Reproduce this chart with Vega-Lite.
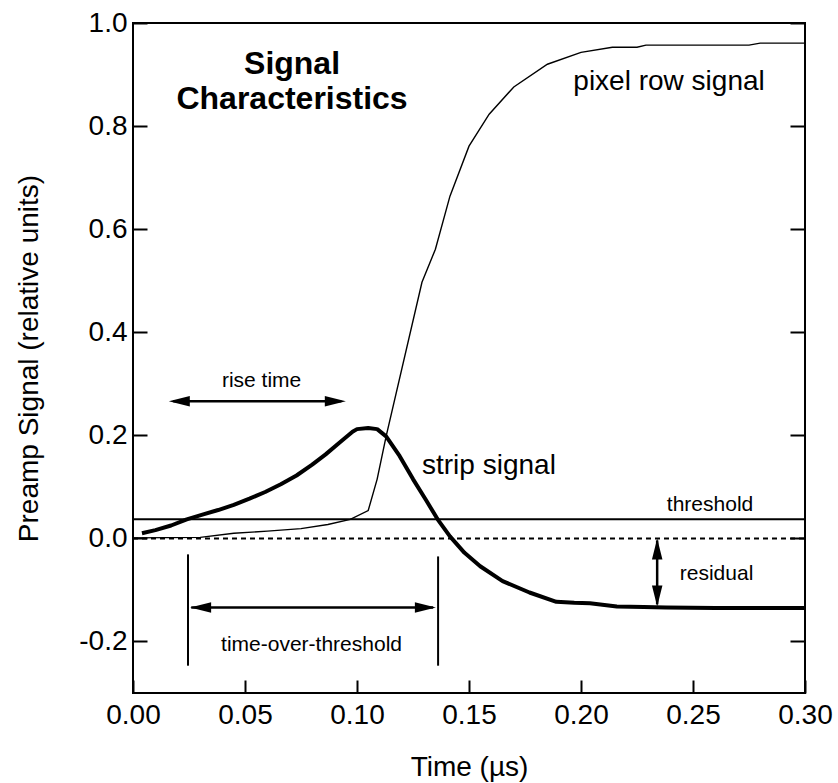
{
  "$schema": "https://vega.github.io/schema/vega-lite/v6.json",
  "width": 672,
  "height": 670,
  "autosize": {"type": "none"},
  "padding": {"left": 133, "top": 23, "right": 33, "bottom": 90},
  "background": "white",
  "config": {
    "view": {"stroke": "black", "strokeWidth": 2},
    "font": "Liberation Sans",
    "axis": {"grid": false, "domain": false, "tickColor": "black", "tickWidth": 2, "labelColor": "black", "titleColor": "black", "labelFont": "Liberation Sans", "titleFont": "Liberation Sans"}
  },
  "datasets": {
    "strip": [
      {"t": 0.004, "v": 0.010}, {"t": 0.010, "v": 0.016}, {"t": 0.017, "v": 0.025}, {"t": 0.024, "v": 0.037},
      {"t": 0.031, "v": 0.046}, {"t": 0.038, "v": 0.055}, {"t": 0.045, "v": 0.065}, {"t": 0.052, "v": 0.077},
      {"t": 0.059, "v": 0.090}, {"t": 0.066, "v": 0.105}, {"t": 0.073, "v": 0.122}, {"t": 0.080, "v": 0.143},
      {"t": 0.086, "v": 0.163}, {"t": 0.092, "v": 0.185}, {"t": 0.098, "v": 0.207}, {"t": 0.100, "v": 0.212},
      {"t": 0.105, "v": 0.214}, {"t": 0.109, "v": 0.212}, {"t": 0.113, "v": 0.198}, {"t": 0.119, "v": 0.160},
      {"t": 0.125, "v": 0.115}, {"t": 0.131, "v": 0.073}, {"t": 0.136, "v": 0.037}, {"t": 0.1415, "v": 0.004},
      {"t": 0.148, "v": -0.028}, {"t": 0.155, "v": -0.054}, {"t": 0.165, "v": -0.083}, {"t": 0.177, "v": -0.105},
      {"t": 0.189, "v": -0.123}, {"t": 0.197, "v": -0.125}, {"t": 0.204, "v": -0.126}, {"t": 0.216, "v": -0.132},
      {"t": 0.228, "v": -0.133}, {"t": 0.238, "v": -0.134}, {"t": 0.260, "v": -0.135}, {"t": 0.280, "v": -0.135},
      {"t": 0.300, "v": -0.135}
    ],
    "pixel": [
      {"t": 0.000, "v": 0.001}, {"t": 0.030, "v": 0.002}, {"t": 0.045, "v": 0.010}, {"t": 0.060, "v": 0.014},
      {"t": 0.075, "v": 0.019}, {"t": 0.087, "v": 0.027}, {"t": 0.097, "v": 0.037}, {"t": 0.105, "v": 0.054},
      {"t": 0.109, "v": 0.115}, {"t": 0.113, "v": 0.198}, {"t": 0.129, "v": 0.497}, {"t": 0.135, "v": 0.561},
      {"t": 0.1415, "v": 0.664}, {"t": 0.150, "v": 0.761}, {"t": 0.159, "v": 0.823}, {"t": 0.170, "v": 0.876},
      {"t": 0.185, "v": 0.920}, {"t": 0.200, "v": 0.943}, {"t": 0.214, "v": 0.953}, {"t": 0.225, "v": 0.953},
      {"t": 0.229, "v": 0.957}, {"t": 0.275, "v": 0.957}, {"t": 0.280, "v": 0.961}, {"t": 0.300, "v": 0.961}
    ],
    "threshold": [{"t": 0.0, "v": 0.037}, {"t": 0.3, "v": 0.037}],
    "zero": [{"t": 0.0, "v": 0.0}, {"t": 0.3, "v": 0.0}],
    "shafts": [
      {"t": 0.018, "t2": 0.093, "v": 0.266, "v2": 0.266},
      {"t": 0.026, "t2": 0.134, "v": -0.134, "v2": -0.134},
      {"t": 0.234, "t2": 0.234, "v": -0.004, "v2": -0.128}
    ],
    "bars": [
      {"t": 0.02455, "t2": 0.02455, "v": -0.031, "v2": -0.247},
      {"t": 0.1362, "t2": 0.1362, "v": -0.035, "v2": -0.247}
    ],
    "heads": [
      {"t": 0.016, "v": 0.266, "dir": "left"},
      {"t": 0.095, "v": 0.266, "dir": "right"},
      {"t": 0.0255, "v": -0.134, "dir": "left"},
      {"t": 0.1352, "v": -0.134, "dir": "right"},
      {"t": 0.234, "v": 0.0, "dir": "up"},
      {"t": 0.234, "v": -0.132, "dir": "down"}
    ],
    "smallText": [
      {"label": "rise time", "t": 0.0574, "v": 0.293},
      {"label": "threshold", "t": 0.2576, "v": 0.054},
      {"label": "residual", "t": 0.2605, "v": -0.080},
      {"label": "time-over-threshold", "t": 0.0797, "v": -0.219}
    ],
    "bigText": [
      {"label": "pixel row signal", "t": 0.2393, "v": 0.870},
      {"label": "strip signal", "t": 0.1589, "v": 0.124}
    ],
    "boldText": [
      {"label": "Signal", "t": 0.071, "v": 0.901},
      {"label": "Characteristics", "t": 0.071, "v": 0.833}
    ]
  },
  "encoding": {
    "x": {
      "field": "t", "type": "quantitative",
      "scale": {"domain": [0, 0.3], "nice": false, "zero": false},
      "axis": {
        "orient": "bottom", "values": [0, 0.05, 0.1, 0.15, 0.2, 0.25, 0.3], "format": ".2f",
        "tickSize": -13, "labelPadding": 21, "labelFontSize": 28, "labelFlush": false, "labelOverlap": false, "labelBound": false,
        "title": "Time (µs)", "titleFontSize": 28, "titleFontWeight": "normal", "titlePadding": 24
      }
    }
  },
  "layer": [
    {
      "data": {"name": "zero"},
      "mark": {"type": "line", "color": "black", "strokeWidth": 2, "strokeDash": [5, 4]},
      "encoding": {
        "y": {
          "field": "v", "type": "quantitative",
          "scale": {"domain": [-0.3, 1.0], "nice": false, "zero": false},
          "axis": {
            "orient": "left", "values": [-0.2, 0, 0.2, 0.4, 0.6, 0.8, 1.0],
            "labelExpr": "replace(format(datum.value, '.1f'), '\u2212', '-')",
            "tickSize": -14, "labelPadding": 20, "labelFontSize": 28, "labelOverlap": false, "labelBound": false,
            "title": "Preamp Signal (relative units)", "titleFontSize": 28, "titleFontWeight": "normal", "titlePadding": 35
          }
        }
      }
    },
    {
      "data": {"name": "threshold"},
      "mark": {"type": "line", "color": "black", "strokeWidth": 2},
      "encoding": {
        "y": {
          "field": "v", "type": "quantitative",
          "axis": {
            "orient": "right", "values": [-0.2, 0, 0.2, 0.4, 0.6, 0.8, 1.0],
            "tickSize": -15, "labels": false, "title": null
          }
        }
      }
    },
    {
      "data": {"name": "pixel"},
      "mark": {"type": "line", "color": "black", "strokeWidth": 1.4},
      "encoding": {"y": {"field": "v", "type": "quantitative", "axis": null}}
    },
    {
      "data": {"name": "strip"},
      "mark": {"type": "line", "color": "black", "strokeWidth": 4, "strokeJoin": "round"},
      "encoding": {"y": {"field": "v", "type": "quantitative", "axis": null}}
    },
    {
      "data": {"name": "shafts"},
      "mark": {"type": "rule", "color": "black", "strokeWidth": 2.5},
      "encoding": {
        "x2": {"field": "t2"},
        "y": {"field": "v", "type": "quantitative", "axis": null},
        "y2": {"field": "v2"}
      }
    },
    {
      "data": {"name": "bars"},
      "mark": {"type": "rule", "color": "black", "strokeWidth": 2},
      "encoding": {
        "x2": {"field": "t2"},
        "y": {"field": "v", "type": "quantitative", "axis": null},
        "y2": {"field": "v2"}
      }
    },
    {
      "data": {"name": "heads"},
      "mark": {"type": "point", "filled": true, "color": "black", "opacity": 1, "size": 441, "strokeWidth": 0},
      "encoding": {
        "y": {"field": "v", "type": "quantitative", "axis": null},
        "shape": {
          "field": "dir", "type": "nominal", "legend": null,
          "scale": {
            "domain": ["left", "right", "up", "down"],
            "range": ["M0,0L2,-0.5L2,0.5Z", "M0,0L-2,-0.5L-2,0.5Z", "M0,0L-0.5,2L0.5,2Z", "M0,0L-0.5,-2L0.5,-2Z"]
          }
        }
      }
    },
    {
      "data": {"name": "smallText"},
      "mark": {"type": "text", "fontSize": 21, "align": "center", "baseline": "alphabetic", "color": "black", "font": "Liberation Sans"},
      "encoding": {"y": {"field": "v", "type": "quantitative", "axis": null}, "text": {"field": "label"}}
    },
    {
      "data": {"name": "bigText"},
      "mark": {"type": "text", "fontSize": 28, "align": "center", "baseline": "alphabetic", "color": "black", "font": "Liberation Sans"},
      "encoding": {"y": {"field": "v", "type": "quantitative", "axis": null}, "text": {"field": "label"}}
    },
    {
      "data": {"name": "boldText"},
      "mark": {"type": "text", "fontSize": 32, "fontWeight": "bold", "align": "center", "baseline": "alphabetic", "color": "black", "font": "Liberation Sans"},
      "encoding": {"y": {"field": "v", "type": "quantitative", "axis": null}, "text": {"field": "label"}}
    }
  ],
  "resolve": {"axis": {"y": "independent"}}
}
